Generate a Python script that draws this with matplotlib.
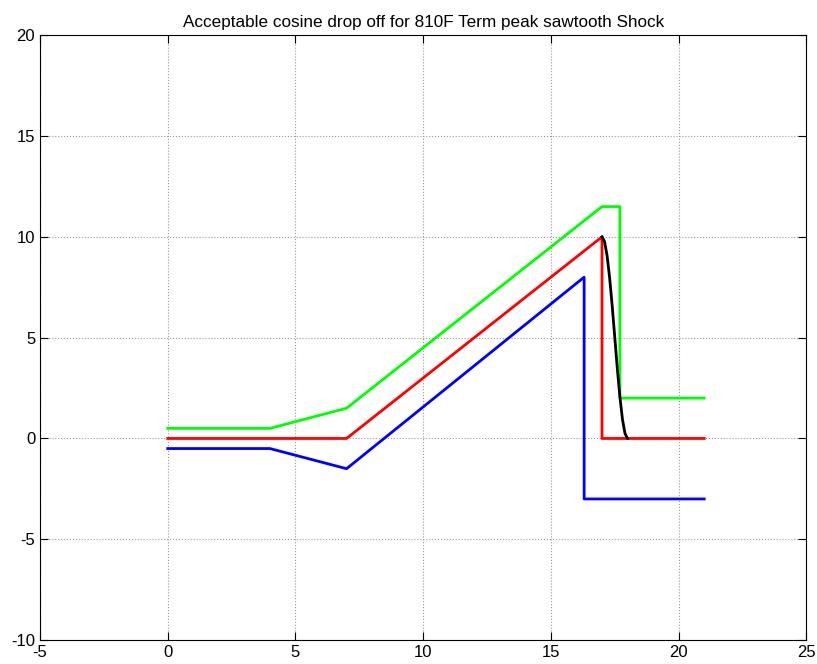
import matplotlib
matplotlib.use("Agg")
import matplotlib.pyplot as plt

plt.rcParams['font.family'] = ['Liberation Sans', 'DejaVu Sans']
plt.rcParams['axes.unicode_minus'] = False

# upper tolerance (green)
upper_t = [0, 4, 7, 17, 17.7, 17.7, 21]
upper_y = [0.5, 0.5, 1.5, 11.5, 11.5, 2, 2]
# nominal sawtooth (red)
nom_t = [0, 7, 17, 17, 21]
nom_y = [0, 0, 10, 0, 0]
# lower tolerance (blue)
lower_t = [0, 4, 7, 16.3, 16.3, 21]
lower_y = [-0.5, -0.5, -1.5, 8, -3, -3]
# cosine drop off (black)
cos_t = [17.0, 17.1, 17.2, 17.3, 17.4, 17.5, 17.6, 17.7, 17.8, 17.9, 18.0]
cos_y = [10.0, 9.76, 9.05, 7.94, 6.55, 5.0, 3.45, 2.06, 0.95, 0.24, 0.0]

fig = plt.figure(figsize=(8.17, 6.64), dpi=100)
ax = fig.add_axes([0.049, 0.036, 0.938, 0.911])

ax.plot(upper_t, upper_y, color=(0, 1, 0), lw=2)
ax.plot(nom_t, nom_y, color=(1, 0, 0), lw=2)
ax.plot(lower_t, lower_y, color=(0, 0, 1), lw=2)
ax.plot(cos_t, cos_y, color='k', lw=2)

ax.set_xlim(-5, 25)
ax.set_ylim(-10, 20)
ax.set_xticks(range(-5, 26, 5))
ax.set_yticks(range(-10, 21, 5))
ax.grid(True, linestyle=':', color='#999999', linewidth=0.8)
ax.tick_params(direction='in', labelsize=12, length=6, top=True, right=True)
ax.set_title('Acceptable cosine drop off for 810F Term peak sawtooth Shock', fontsize=12.3)

fig.savefig('out.png', dpi=100)
